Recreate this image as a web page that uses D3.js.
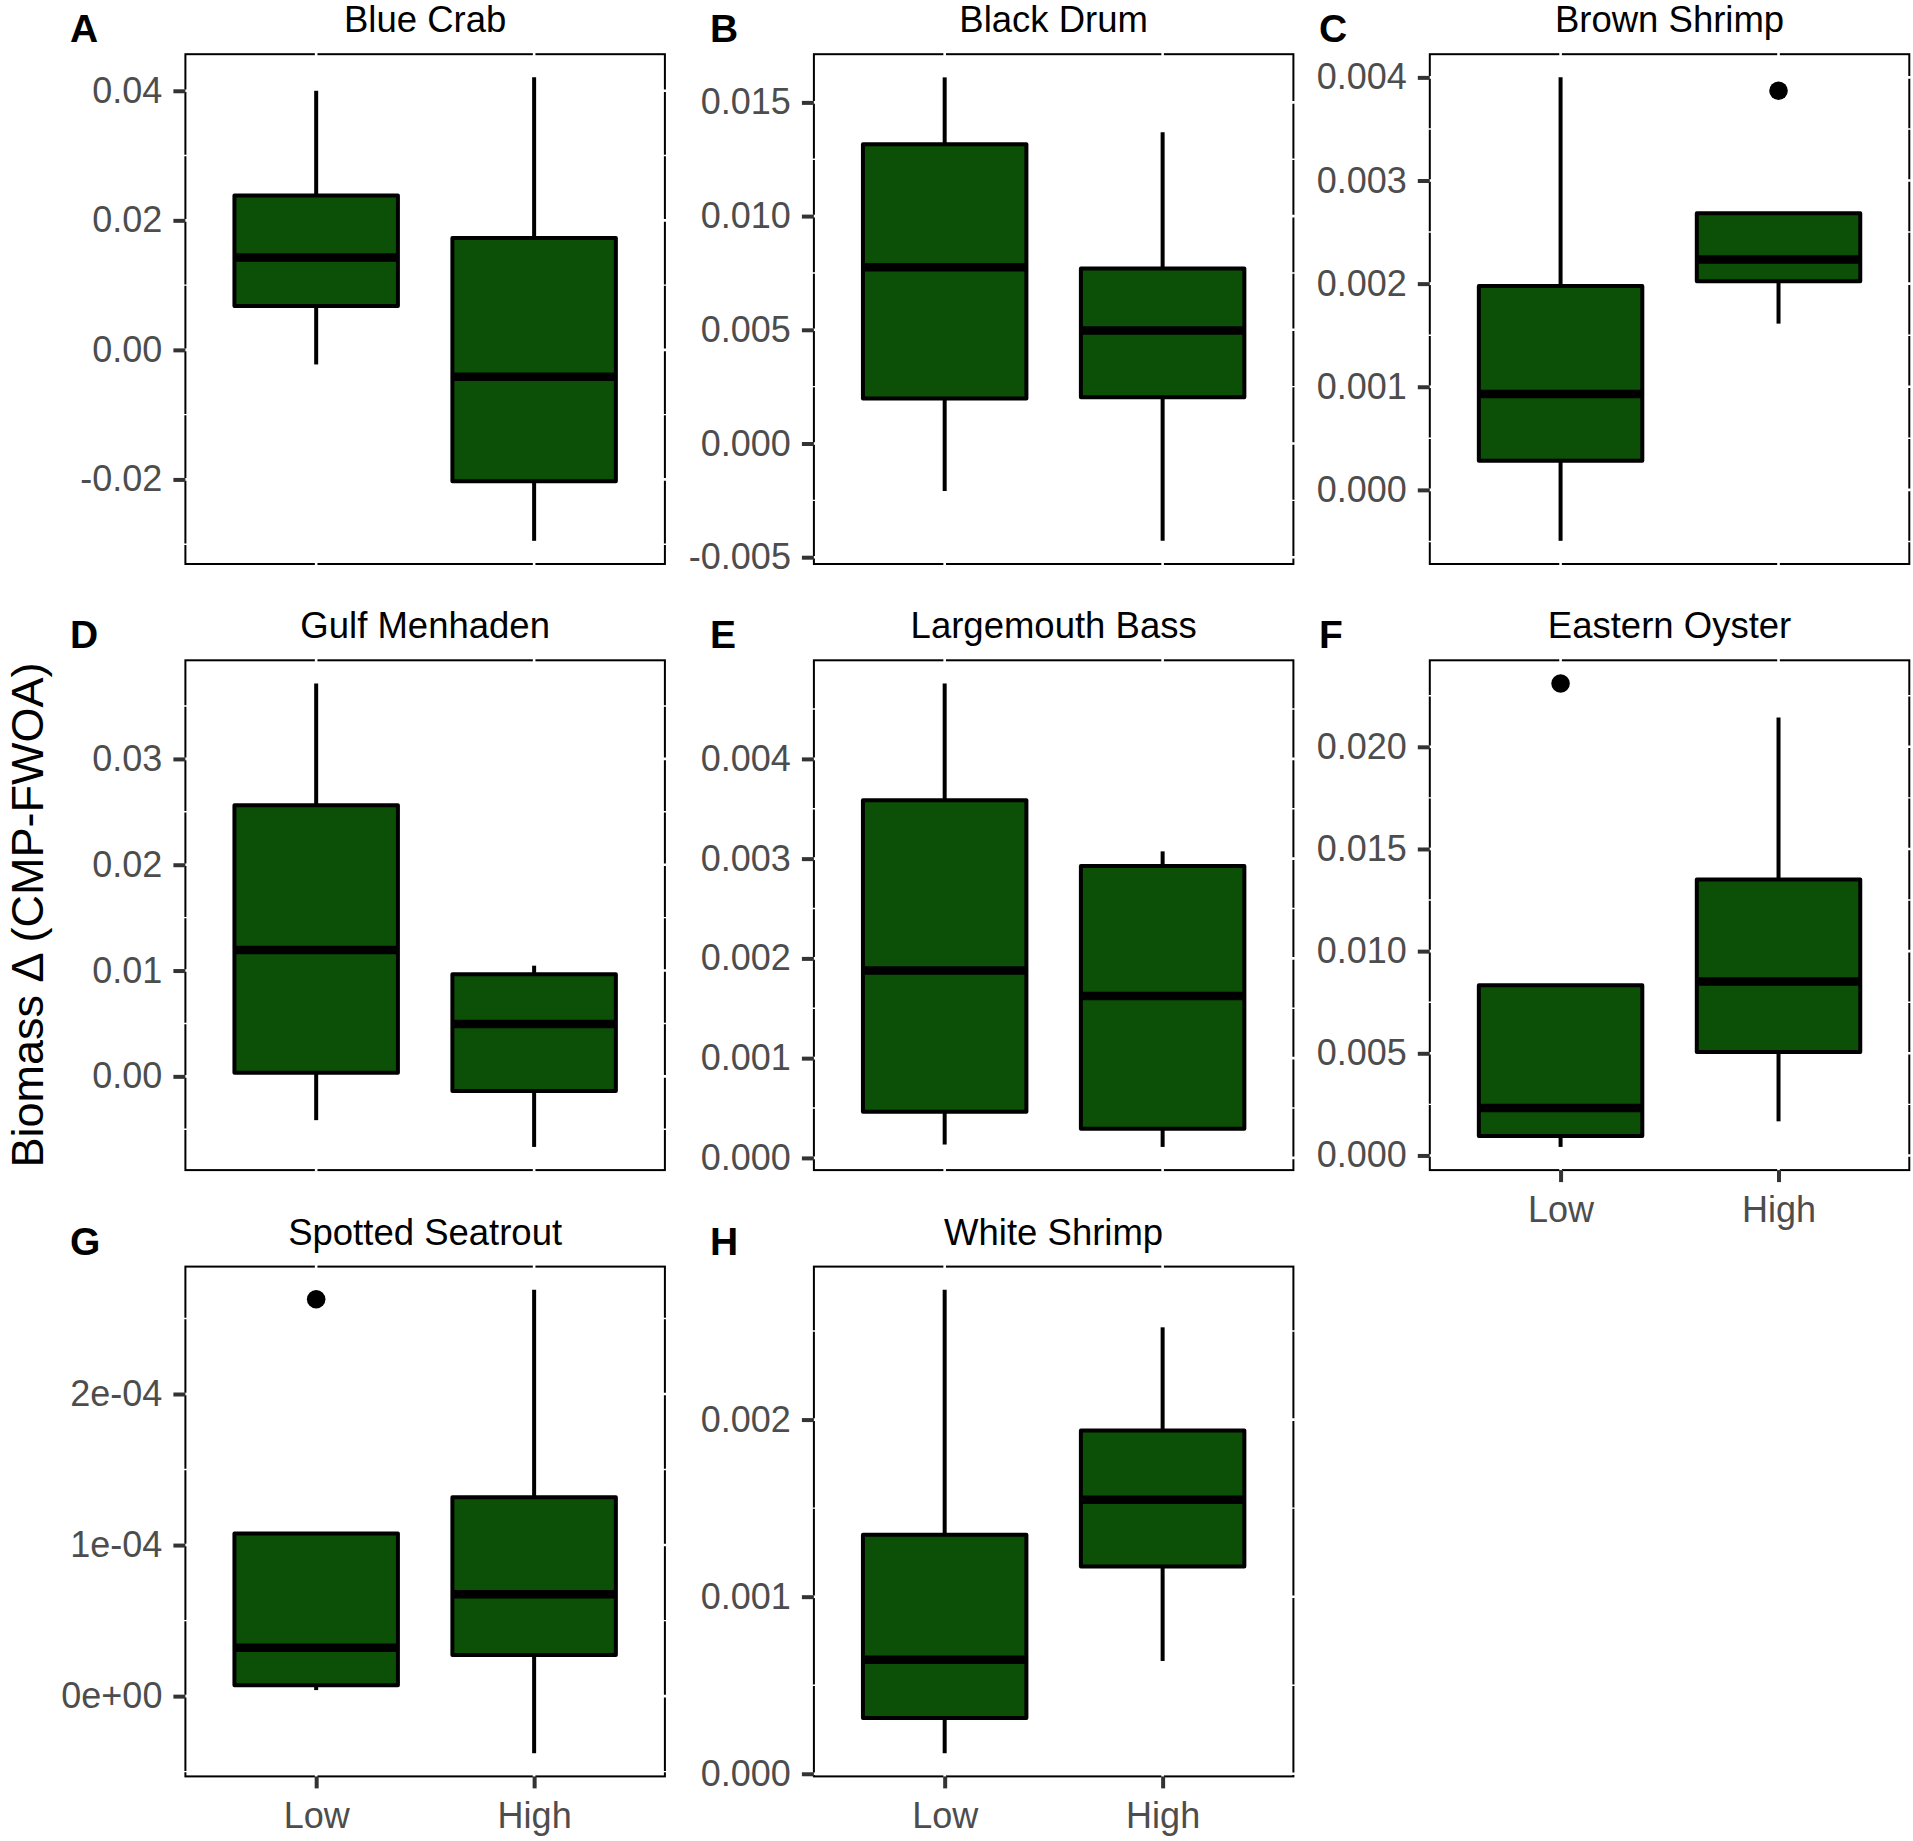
<!DOCTYPE html>
<html><head><meta charset="utf-8">
<script src="https://cdn.jsdelivr.net/npm/d3@7"></script>
<style>body{margin:0;background:#fff} svg{display:block}</style>
</head><body>
<svg id="chart" width="1913" height="1841"></svg>
<script>
// ---------- DATA ----------
const species = ["Blue Crab","Black Drum","Brown Shrimp","Gulf Menhaden","Largemouth Bass","Eastern Oyster","Spotted Seatrout","White Shrimp"];
const panelLetters = ["A","B","C","D","E","F","G","H"];
const groups = ["Low","High"];
// box stats: [lower whisker, Q1, median, Q3, upper whisker]
const lowStats = [
  [-0.00225, 0.00676, 0.01427, 0.02385, 0.0400],
  [-0.00209, 0.00198, 0.00775, 0.01316, 0.0161],
  [-0.000494, 0.000282, 0.000929, 0.001976, 0.0040],
  [-0.00414, 0.000345, 0.01195, 0.02563, 0.03713],
  [0.000134, 0.000463, 0.001878, 0.003585, 0.004756],
  [0.000417, 0.000952, 0.00232, 0.00833, 0.00833],
  [0.040e-4, 0.072e-4, 0.321e-4, 1.076e-4, 1.076e-4],
  [0.000116, 0.000315, 0.000644, 0.001349, 0.002733]
];
const highStats = [
  [-0.02948, -0.02028, -0.00413, 0.01728, 0.04207],
  [-0.00428, 0.00203, 0.00497, 0.0077, 0.01369],
  [0.001612, 0.002024, 0.002235, 0.002682, 0.002682],
  [-0.00667, -0.00138, 0.00494, 0.00966, 0.01046],
  [0.00011, 0.000293, 0.001622, 0.002927, 0.003073],
  [0.00167, 0.00506, 0.00851, 0.01351, 0.02143],
  [-0.378e-4, 0.273e-4, 0.675e-4, 1.317e-4, 2.69e-4],
  [0.000637, 0.001171, 0.001548, 0.001938, 0.002521]
];
const lowOutliers  = [[],[],[],[],[],[0.0231],[2.627e-4],[]];
const highOutliers = [[],[],[0.00387],[],[],[],[],[]];
const yTicks = [
  [-0.02, 0, 0.02, 0.04],
  [-0.005, 0, 0.005, 0.010, 0.015],
  [0, 0.001, 0.002, 0.003, 0.004],
  [0, 0.01, 0.02, 0.03],
  [0, 0.001, 0.002, 0.003, 0.004],
  [0, 0.005, 0.010, 0.015, 0.020],
  [0, 1e-4, 2e-4],
  [0, 0.001, 0.002]
];
const yTickLabels = [
  ["-0.02","0.00","0.02","0.04"],
  ["-0.005","0.000","0.005","0.010","0.015"],
  ["0.000","0.001","0.002","0.003","0.004"],
  ["0.00","0.01","0.02","0.03"],
  ["0.000","0.001","0.002","0.003","0.004"],
  ["0.000","0.005","0.010","0.015","0.020"],
  ["0e+00","1e-04","2e-04"],
  ["0.000","0.001","0.002"]
];
const yTitle = "Biomass \u0394 (CMP-FWOA)";
const showXAxis = [false,false,false,false,false,true,true,true];

// ---------- LAYOUT ----------
const colLeft = [185.4, 813.9, 1429.8];
const rowTop = [54.2, 660.3, 1266.6];
const pw = 479.5, ph = 509.8;
const letterX = [70, 710, 1319];
const fill = "#0b5006";
const font = "'Liberation Sans', Arial, Helvetica, sans-serif";

const svg = d3.select("#chart");
svg.append("rect").attr("width",1913).attr("height",1841).attr("fill","#fff");

species.forEach((name, i) => {
  const col = i % 3, row = Math.floor(i / 3);
  const x0 = colLeft[col], y0 = rowTop[row];
  const g = svg.append("g").attr("transform", `translate(${x0},${y0})`);

  const allVals = lowStats[i].concat(highStats[i], lowOutliers[i], highOutliers[i]);
  const lo = d3.min(allVals), hi = d3.max(allVals), pad = (hi - lo) * 0.05;
  const y = d3.scaleLinear().domain([lo - pad, hi + pad]).range([ph, 0]);
  // ggplot discrete axis: categories at 1,2 on [0.4,2.6]
  const xc = d3.scaleLinear().domain([0.4, 2.6]).range([0, pw]);
  const step = xc(2) - xc(1);
  const cx = gname => xc(groups.indexOf(gname) + 1);

  // panel background + border
  g.append("rect").attr("width", pw).attr("height", ph).attr("fill","#fff")
    .attr("stroke","#000").attr("stroke-width",2);

  // white grid (visible only where crossing the border)
  const t = yTicks[i];
  const d = t[1] - t[0];
  const minors = [];
  for (let k = -1; k < t.length; k++) {
    const v = t[0] + d * (k + 0.5);
    if (v > y.domain()[0] && v < y.domain()[1]) minors.push(v);
  }
  g.selectAll(".minor").data(minors).join("line")
    .attr("x1",-1.5).attr("x2",pw+1.5).attr("y1",v=>y(v)).attr("y2",v=>y(v))
    .attr("stroke","#fff").attr("stroke-width",1.4);
  g.selectAll(".majory").data(t).join("line")
    .attr("x1",-1.5).attr("x2",pw+1.5).attr("y1",v=>y(v)).attr("y2",v=>y(v))
    .attr("stroke","#fff").attr("stroke-width",2.6);
  g.selectAll(".majorx").data(groups).join("line")
    .attr("x1",d=>cx(d)).attr("x2",d=>cx(d)).attr("y1",-1.5).attr("y2",ph+1.5)
    .attr("stroke","#fff").attr("stroke-width",2.6);

  // boxes
  const bw = 0.75 * step;
  const boxes = [ {grp:"Low", s:lowStats[i], out:lowOutliers[i]}, {grp:"High", s:highStats[i], out:highOutliers[i]} ];
  boxes.forEach(b => {
    const c = cx(b.grp), s = b.s;
    const bg = g.append("g");
    bg.append("line").attr("x1",c).attr("x2",c).attr("y1",y(s[3])).attr("y2",y(s[4]))
      .attr("stroke","#000").attr("stroke-width",4);
    bg.append("line").attr("x1",c).attr("x2",c).attr("y1",y(s[1])).attr("y2",y(s[0]))
      .attr("stroke","#000").attr("stroke-width",4);
    bg.append("rect").attr("x",c-bw/2).attr("width",bw)
      .attr("y",y(s[3])).attr("height",y(s[1])-y(s[3]))
      .attr("fill",fill).attr("stroke","#000").attr("stroke-width",4)
      .attr("stroke-linejoin","round");
    bg.append("line").attr("x1",c-bw/2).attr("x2",c+bw/2).attr("y1",y(s[2])).attr("y2",y(s[2]))
      .attr("stroke","#000").attr("stroke-width",8.5);
    bg.selectAll("circle").data(b.out).join("circle")
      .attr("cx",c).attr("cy",v=>y(v)).attr("r",9.3).attr("fill","#000");
  });

  // y axis
  const yAxis = d3.axisLeft(y).tickValues(t).tickSize(12).tickPadding(11)
    .tickFormat((v,k) => yTickLabels[i][k]);
  const ya = g.append("g").call(yAxis);
  ya.select(".domain").remove();
  ya.selectAll(".tick line").attr("stroke","#333").attr("stroke-width",4);
  ya.selectAll(".tick text").attr("fill","#4d4d4d").style("font-family",font).style("font-size","36px");

  if (showXAxis[i]) {
    const xa = g.append("g").attr("transform",`translate(0,${ph})`)
      .call(d3.axisBottom(xc).tickValues([1,2]).tickSize(12).tickPadding(14)
        .tickFormat(v => groups[v-1]));
    xa.select(".domain").remove();
    xa.selectAll(".tick line").attr("stroke","#333").attr("stroke-width",4);
    xa.selectAll(".tick text").attr("fill","#4d4d4d").style("font-family",font).style("font-size","36px");
  }

  // title
  g.append("text").attr("x", pw/2).attr("y", -22).attr("text-anchor","middle")
    .style("font-family",font).style("font-size","36.5px").attr("fill","#000").text(name);
  // panel letter
  svg.append("text").attr("x", letterX[col]).attr("y", y0 - 12)
    .style("font-family",font).style("font-size","39px").style("font-weight","bold")
    .attr("fill","#000").text(panelLetters[i]);
});

// y axis title
svg.append("text").attr("transform","translate(43,915) rotate(-90)")
  .attr("text-anchor","middle").style("font-family",font).style("font-size","45px")
  .attr("fill","#000").text(yTitle);
</script>
</body></html>
